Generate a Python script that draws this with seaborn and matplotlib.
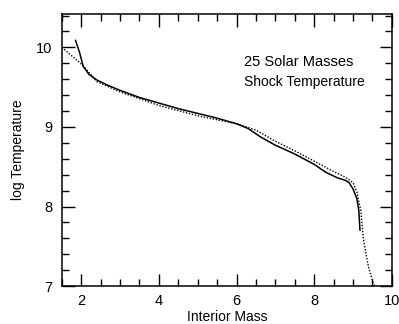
import matplotlib
matplotlib.use("Agg")
import matplotlib.pyplot as plt
import seaborn as sns
import pandas as pd
from matplotlib.ticker import MultipleLocator

solid_x = [1.85, 1.96, 2.05, 2.2, 2.4, 2.7, 3.0, 3.5, 4.0, 4.5, 5.0, 5.5, 6.0, 6.3, 6.6, 7.0, 7.5, 8.0, 8.3, 8.6, 8.8, 8.9, 9.0, 9.1, 9.15, 9.18]
solid_y = [10.09, 9.93, 9.76, 9.66, 9.59, 9.52, 9.46, 9.37, 9.30, 9.23, 9.17, 9.11, 9.04, 8.98, 8.88, 8.77, 8.66, 8.53, 8.43, 8.36, 8.33, 8.30, 8.22, 8.10, 7.95, 7.70]

dot_x = [1.5, 2.05, 2.4, 3.0, 4.0, 5.0, 6.0, 6.5, 7.0, 7.5, 8.0, 8.5, 8.8, 9.0, 9.1, 9.2, 9.27, 9.4, 9.5, 9.57]
dot_y = [10.0, 9.77, 9.57, 9.44, 9.27, 9.14, 9.04, 8.96, 8.82, 8.70, 8.57, 8.44, 8.37, 8.30, 8.18, 7.95, 7.58, 7.24, 7.07, 6.98]

sns.set_style("ticks")
plt.rcParams['font.family'] = ['Liberation Sans', 'DejaVu Sans']
plt.rcParams['text.color'] = 'black'
plt.rcParams['axes.labelcolor'] = 'black'
plt.rcParams['xtick.color'] = 'black'
plt.rcParams['ytick.color'] = 'black'

fig, ax = plt.subplots(figsize=(3.99, 3.24), dpi=100)
fig.subplots_adjust(left=0.155, right=0.982, top=0.957, bottom=0.117)

df_s = pd.DataFrame({"x": solid_x, "y": solid_y})
df_d = pd.DataFrame({"x": dot_x, "y": dot_y})
sns.lineplot(data=df_s, x="x", y="y", ax=ax, color="black", lw=1.1, sort=False)
sns.lineplot(data=df_d, x="x", y="y", ax=ax, color="black", lw=1.0, sort=False,
             linestyle=(0, (1, 1.2)))

ax.set_xlim(1.5, 10)
ax.set_ylim(7, 10.42)
ax.xaxis.set_major_locator(MultipleLocator(2))
ax.xaxis.set_minor_locator(MultipleLocator(0.5))
ax.yaxis.set_major_locator(MultipleLocator(1))
ax.yaxis.set_minor_locator(MultipleLocator(0.2))
ax.tick_params(which='both', direction='in', top=True, right=True, width=1, color='black',
               labelcolor='black', labelsize=10.5)
ax.tick_params(axis='x', which='both', pad=6)
ax.tick_params(axis='y', which='both', pad=7)
ax.tick_params(which='major', length=9)
ax.tick_params(which='minor', length=5)
for s in ax.spines.values():
    s.set_linewidth(1.1)
    s.set_color('black')

ax.set_xlabel("Interior Mass", fontsize=10, labelpad=1)
ax.set_ylabel("log Temperature", fontsize=10, labelpad=8)

ax.text(6.2, 9.81, "25 Solar Masses", fontsize=10.5, va='center', ha='left')
ax.text(6.2, 9.57, "Shock Temperature", fontsize=10, va='center', ha='left')

fig.savefig("out.png", dpi=100)
